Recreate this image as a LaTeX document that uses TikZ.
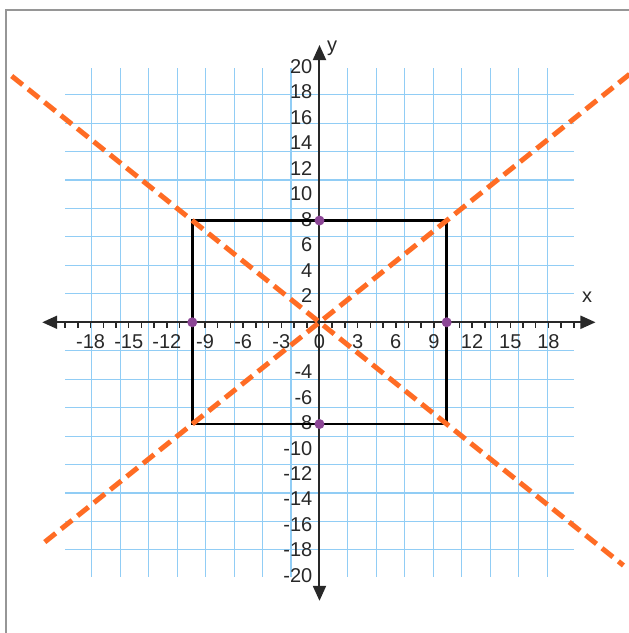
\documentclass[tikz,border=0pt]{standalone}
\usepackage{fontspec}
\setmainfont{Liberation Sans}
\usetikzlibrary{arrows.meta}
\definecolor{gridblue}{RGB}{145,205,245}
\definecolor{axisgray}{RGB}{40,40,40}
\definecolor{framegray}{RGB}{150,150,150}
\definecolor{lineorange}{RGB}{255,108,36}
\definecolor{dotpurple}{RGB}{140,70,150}
\tikzset{
  frameline/.style={draw=framegray, line width=2pt},
  gridline/.style={draw=gridblue, line width=1.1pt},
  axisline/.style={draw=axisgray, line width=2pt, {Triangle[length=15pt,width=13pt]}-{Triangle[length=15pt,width=13pt]}},
  tickline/.style={draw=axisgray, line width=1.5pt},
  lab/.style={text=axisgray, inner sep=0pt, font=\fontsize{20}{22}\selectfont},
  rectline/.style={draw=black, line width=2.5pt},
  dashline/.style={draw=lineorange, line width=5pt, dash pattern=on 14pt off 7pt},
  dotnode/.style={circle, fill=dotpurple, minimum size=10pt, inner sep=0pt}
}
\begin{document}
\begin{tikzpicture}[x=12.72pt,y=12.72pt]
\useasboundingbox (-25.12,-24.43) rectangle (24.33,25.34);
\draw[frameline] (-24.61,-24.6) -- (-24.61,24.59) -- (24.5,24.59);
\draw[gridline] (-20,-20) grid (20,20);
% axes
\coordinate (xleft) at (-21.8,0);
\coordinate (xright) at (21.7,0);
\coordinate (ybottom) at (0,-21.9);
\coordinate (ytop) at (0,21.8);
\draw[axisline] (xleft) -- (xright);
\draw[axisline] (ybottom) -- (ytop);
\foreach \i in {-20,...,20} \draw[tickline] (\i,0) -- (\i,-0.42);
\foreach \i in {-18,-15,...,18} \node[lab] (xlab\i) at (\i,-1.5) {\i};
\foreach \j in {2,4,...,20} \node[lab, anchor=east] (ylab\j) at (-0.55,\j+0.1) {\j};
\foreach \j in {-4,-6,...,-20} \node[lab, anchor=east] (ylab\j) at (-0.55,\j+0.1) {\j};
\node[lab] (xname) at (21.04,2.0) {x};
\node[lab] (yname) at (1.0,21.55) {y};
% rectangle
\coordinate (rbl) at (-10,-8);
\coordinate (rtr) at (10,8);
\draw[rectline] (rbl) rectangle (rtr);
% dashed lines
\coordinate (aa) at (-21.6,-17.28);
\coordinate (ab) at (24.6,19.68);
\coordinate (ba) at (-24.2,19.36);
\coordinate (bb) at (23.9,-19.12);
\begin{scope}
\clip (-25.12,-24.43) rectangle (24.33,25.34);
\draw[dashline] (aa) -- (ab);
\draw[dashline] (ba) -- (bb);
\end{scope}
% points
\node[dotnode] (p1) at (0,8) {};
\node[dotnode] (p2) at (0,-8) {};
\node[dotnode] (p3) at (-10,0) {};
\node[dotnode] (p4) at (10,0) {};
\end{tikzpicture}
\end{document}
